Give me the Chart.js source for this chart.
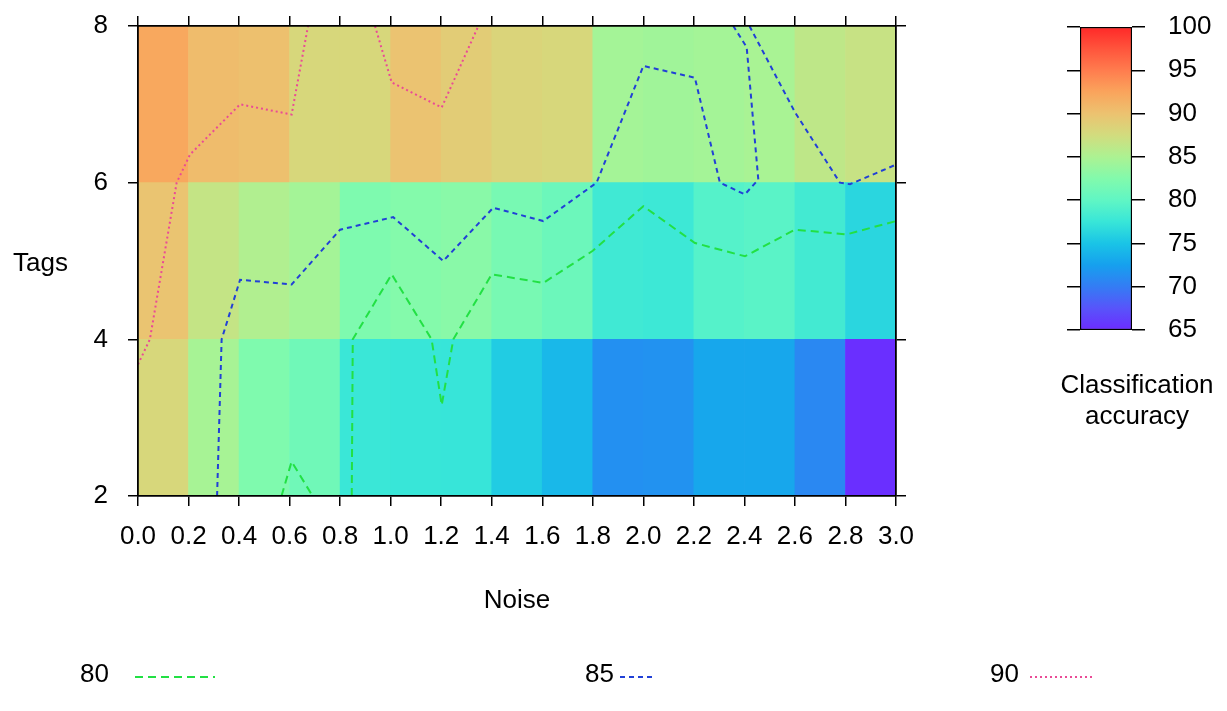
<!DOCTYPE html>
<html>
<head>
<meta charset="utf-8">
<script src="https://cdn.jsdelivr.net/npm/chart.js@4.4.1/dist/chart.umd.min.js"></script>
<style>
  html, body { margin: 0; padding: 0; background: #fff; }
  #wrap { position: relative; width: 1227px; height: 711px; }
  #heat { position: absolute; left: 0; top: 0; }
  #key { position: absolute; left: 1047px; top: 0; }
</style>
</head>
<body>
<div id="wrap">
  <canvas id="heat" width="1227" height="711"></canvas>
  <canvas id="key" width="180" height="450"></canvas>
</div>
<script>
// cell centres along Noise, and the three Tags bands
const noiseMid = [0.1, 0.3, 0.5, 0.7, 0.9, 1.1, 1.3, 1.5, 1.7, 1.9, 2.1, 2.3, 2.5, 2.7, 2.9];
const tagBands = [[2, 4], [4, 6], [6, 8]];

// classification accuracy per cell, one array per Tags band
const accTags2to4 = [88.0, 84.7, 82.3, 81.2, 77.6, 77.5, 77.4, 75.6, 74.2, 71.4, 71.5, 73.0, 73.0, 70.8, 65.2];
const accTags4to6 = [89.8, 86.6, 85.3, 84.5, 82.2, 82.6, 82.9, 81.8, 80.9, 78.0, 77.8, 79.3, 79.6, 78.2, 76.3];
const accTags6to8 = [92.2, 90.5, 90.2, 88.0, 88.0, 89.9, 89.0, 88.3, 88.0, 84.5, 84.3, 84.5, 84.8, 86.2, 86.8];

// contour paths [noise, tags]; null breaks a path
const contourLevels = [80, 85, 90];
const contour80 = [
  [0.568, 2.0], [0.608, 2.44], [0.691, 2.0], null,
  [0.846, 2.0], [0.850, 4.0], [1.004, 4.83], [1.162, 4.0], [1.202, 3.16], [1.248, 4.0],
  [1.40, 4.83], [1.604, 4.72], [1.80, 5.13], [2.0, 5.70], [2.204, 5.23], [2.402, 5.06],
  [2.60, 5.40], [2.805, 5.34], [3.0, 5.51]
];
const contour85 = [
  [0.313, 2.0], [0.331, 4.0], [0.404, 4.76], [0.608, 4.70], [0.80, 5.40], [1.01, 5.56],
  [1.208, 5.0], [1.406, 5.68], [1.604, 5.51], [1.815, 6.0], [2.0, 7.49], [2.204, 7.34],
  [2.303, 6.0], [2.402, 5.85], [2.455, 6.04], [2.409, 7.73], [2.356, 8.0], null,
  [2.42, 8.0], [2.6, 6.9], [2.778, 6.0], [2.818, 5.98], [3.0, 6.23]
];
const contour90 = [
  [0.0, 3.68], [0.047, 4.0], [0.153, 6.0], [0.206, 6.36], [0.404, 7.0], [0.608, 6.87], [0.673, 8.0], null,
  [0.938, 8.0], [1.004, 7.28], [1.202, 6.96], [1.347, 8.0]
];

const accTicks = [65, 100];

// palette
const paletteAt = [65, 67.5, 70, 72.5, 75, 77.5, 80, 82.5, 85, 87.5, 90, 92.5, 95, 97.5, 100];
const paletteRgb = [
  [108, 44, 255], [88, 84, 250], [52, 124, 244], [22, 160, 238], [26, 196, 230],
  [56, 230, 216], [96, 246, 196], [130, 250, 172], [172, 242, 146], [210, 220, 126],
  [236, 194, 112], [250, 164, 92], [255, 124, 78], [255, 84, 60], [255, 40, 40]
];

function accColor(v) {
  let i = 0;
  while (i < paletteAt.length - 2 && v > paletteAt[i + 1]) i++;
  const t = Math.min(1, Math.max(0, (v - paletteAt[i]) / (paletteAt[i + 1] - paletteAt[i])));
  const a = paletteRgb[i], b = paletteRgb[i + 1];
  const c = a.map((x, k) => Math.round(x + (b[k] - x) * t));
  return `rgb(${c[0]},${c[1]},${c[2]})`;
}

Chart.defaults.font.family = '"Liberation Sans", Arial, Helvetica, sans-serif';
Chart.defaults.font.size = 26;
Chart.defaults.color = '#000';

const FONT = '26px "Liberation Sans", Arial, Helvetica, sans-serif';

function bandDataset(band, values) {
  return {
    type: 'bar',
    order: 1,
    data: noiseMid.map(x => ({ x: x, y: band })),
    backgroundColor: values.map(accColor),
    borderWidth: 0,
    barPercentage: 1,
    categoryPercentage: 1,
    grouped: false
  };
}

function contourDataset(level, path, color, dash) {
  return {
    type: 'line',
    order: 0,
    label: String(level),
    data: path.map(p => p ? { x: p[0], y: p[1] } : { x: NaN, y: null }),
    borderColor: color,
    borderWidth: 2,
    borderDash: dash,
    pointRadius: 0,
    fill: false,
    tension: 0,
    spanGaps: false
  };
}

// frame and tick marks sit above the cells (z > 0)
const frameGrid = {
  offset: false,
  drawOnChartArea: false,
  drawTicks: true,
  tickLength: 10,
  color: '#000',
  lineWidth: 1.5,
  z: 1
};
const frameBorder = { display: true, color: '#000', width: 1.8, z: 2 };

// fixed box size, and no label overhang pushing the plot inwards
function fixSize(w, h) {
  return s => {
    if (w !== null) s.width = w;
    if (h !== null) s.height = h;
    s.paddingTop = 0; s.paddingBottom = 0; s.paddingLeft = 0; s.paddingRight = 0;
  };
}

const sideText = {
  id: 'sideText',
  afterDraw(chart) {
    const { ctx, chartArea } = chart;
    ctx.save();
    ctx.font = FONT;
    ctx.fillStyle = '#000';
    ctx.textBaseline = 'middle';
    ctx.textAlign = 'left';
    ctx.fillText('Tags', 13, (chartArea.top + chartArea.bottom) / 2 + 3);

    // key below the panel: label then line sample
    const slots = [[80, 135, 215], [585, 620, 652], [990, 1030, 1095]];
    chart.data.datasets.filter(d => d.type === 'line').forEach((d, i) => {
      const s = slots[i];
      ctx.setLineDash([]);
      ctx.fillText(d.label, s[0], 675);
      ctx.strokeStyle = d.borderColor;
      ctx.lineWidth = d.borderWidth;
      ctx.setLineDash(d.borderDash);
      ctx.beginPath();
      ctx.moveTo(s[1], 677);
      ctx.lineTo(s[2], 677);
      ctx.stroke();
    });
    ctx.restore();
  }
};

new Chart(document.getElementById('heat'), {
  type: 'bar',
  data: {
    datasets: [
      contourDataset(contourLevels[0], contour80, '#22e044', [8, 5]),
      contourDataset(contourLevels[1], contour85, '#2140d6', [5, 4]),
      contourDataset(contourLevels[2], contour90, '#ea4a96', [2, 3]),
      bandDataset(tagBands[0], accTags2to4),
      bandDataset(tagBands[1], accTags4to6),
      bandDataset(tagBands[2], accTags6to8)
    ]
  },
  options: {
    responsive: false,
    animation: false,
    events: [],
    plugins: { legend: { display: false }, tooltip: { enabled: false } },
    scales: {
      x: {
        type: 'linear',
        position: 'bottom',
        offset: false,
        min: 0, max: 3,
        ticks: { stepSize: 0.2, maxTicksLimit: 20, autoSkip: false, maxRotation: 0, padding: 15,
                 callback: v => Number(v).toFixed(1) },
        grid: frameGrid,
        border: frameBorder,
        title: { display: true, text: 'Noise', padding: { top: 0, bottom: 95 } },
        afterFit: fixSize(null, 215)
      },
      xTop: {
        type: 'linear',
        position: 'top',
        offset: false,
        min: 0, max: 3,
        ticks: { display: false, stepSize: 0.2, maxTicksLimit: 20 },
        grid: frameGrid,
        border: frameBorder,
        afterFit: fixSize(null, 26)
      },
      y: {
        type: 'linear',
        position: 'left',
        min: 2, max: 8,
        ticks: { stepSize: 2, padding: 20 },
        grid: frameGrid,
        border: frameBorder,
        afterFit: fixSize(138, null)
      },
      yRight: {
        type: 'linear',
        position: 'right',
        min: 2, max: 8,
        ticks: { display: false, stepSize: 2 },
        grid: frameGrid,
        border: frameBorder,
        afterFit: fixSize(331, null)
      }
    }
  },
  plugins: [sideText]
});

// colour key
new Chart(document.getElementById('key'), {
  type: 'bar',
  data: {
    labels: [''],
    datasets: [{
      data: [accTicks],
      backgroundColor: ctx => {
        const chart = ctx.chart;
        if (!chart.chartArea) return 'transparent';
        const ys = chart.scales.y;
        const g = chart.ctx.createLinearGradient(0, ys.getPixelForValue(accTicks[0]), 0, ys.getPixelForValue(accTicks[1]));
        paletteAt.forEach(v => {
          g.addColorStop((v - accTicks[0]) / (accTicks[1] - accTicks[0]), accColor(v));
        });
        return g;
      },
      borderColor: '#000',
      borderWidth: 1.5,
      borderSkipped: false,
      barPercentage: 1,
      categoryPercentage: 1
    }]
  },
  options: {
    responsive: false,
    animation: false,
    events: [],
    layout: { padding: { top: 27, bottom: 17.6 } },
    plugins: {
      legend: { display: false },
      tooltip: { enabled: false },
      title: {
        display: true,
        position: 'bottom',
        text: ['Classification', 'accuracy'],
        font: { size: 26, weight: 'normal' },
        color: '#000',
        padding: { top: 40, bottom: 0 }
      }
    },
    scales: {
      x: { display: false },
      y: {
        position: 'left',
        min: accTicks[0], max: accTicks[1],
        ticks: { display: false, stepSize: 5 },
        grid: { drawOnChartArea: false, drawTicks: true, tickLength: 13, color: '#000', lineWidth: 1.5 },
        border: { display: false },
        afterFit: fixSize(33, null)
      },
      yKey: {
        position: 'right',
        min: accTicks[0], max: accTicks[1],
        ticks: { stepSize: 5, padding: 23 },
        grid: { drawOnChartArea: false, drawTicks: true, tickLength: 13, color: '#000', lineWidth: 1.5 },
        border: { display: false },
        afterFit: fixSize(95, null)
      }
    }
  }
});
</script>
</body>
</html>
